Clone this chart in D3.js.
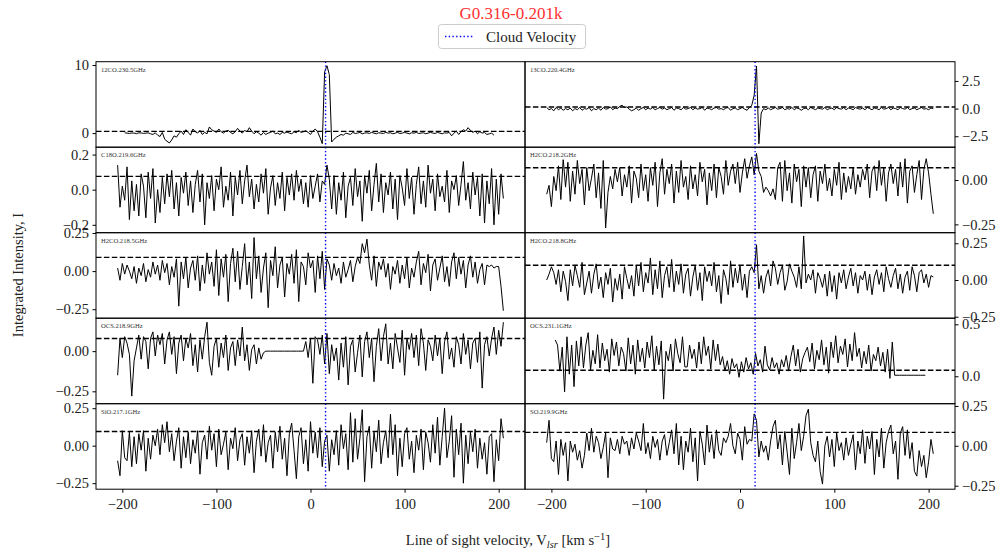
<!DOCTYPE html>
<html>
<head>
<meta charset="utf-8">
<script src="https://cdn.jsdelivr.net/npm/d3@7"></script>
<style>
  body { margin: 0; background: #fff; }
  svg { display: block; }
  svg text { font-family: "Liberation Serif", serif !important; }
</style>
</head>
<body>
<svg id="chart" width="1007" height="556"></svg>
<script>
// ---- source / annotation ----
const sourceName = "G0.316-0.201k";
const cloudVelocity = 16;            // km/s
const channelWidth = 2.5;            // km/s per channel

// ---- line names (panel order: left, right per row) ----
const lineNames = [
  "12CO.230.5GHz", "13CO.220.4GHz",
  "C18O.219.6GHz", "H2CO.218.2GHz",
  "H2CO.218.5GHz", "H2CO.218.8GHz",
  "OCS.218.9GHz",  "OCS.231.1GHz",
  "SiO.217.1GHz",  "SO.219.9GHz"
];

// first channel velocity of each spectrum (km/s)
const startVelocity = [-197.5, -205, -205, -205, -205, -205, -205, -196, -205, -205];

// detection threshold drawn as dashed line
const thresholds = [0.25, 0.15, 0.076, 0.069, 0.09, 0.10, 0.079, 0.058, 0.095, 0.084];

// y-axis limits and ticks per panel
const yLimits = [
  [-2.07, 10.49], [-3.49, 4.24],
  [-0.245, 0.242], [-0.297, 0.185],
  [-0.309, 0.252], [-0.26, 0.322],
  [-0.327, 0.205], [-0.264, 0.559],
  [-0.29, 0.28],  [-0.272, 0.264]
];
const yTicks = [
  [0, 10], [-2.5, 0, 2.5],
  [-0.2, 0, 0.2], [-0.25, 0],
  [-0.25, 0, 0.25], [-0.25, 0, 0.25],
  [-0.25, 0], [0, 0.5],
  [-0.25, 0, 0.25], [-0.25, 0, 0.25]
];
const yTickFormats = ["d", ".1f", ".1f", ".2f", ".2f", ".2f", ".2f", ".1f", ".2f", ".2f"];

const xLimits = [-228, 228];
const xTicks = [-200, -100, 0, 100, 200];

// ---- spectra (integrated intensity per channel) ----
const co12 = [
  .05,.0,-.05,.02,.0,-.08,.04,.02,-.04,.0,
  .03,-.1,-.2,.05,-.3,-.5,.1,-.9,-1.2,-1.45,
  -1.0,-.4,-.6,-.1,.3,-.2,.5,.1,-.3,.6,
  .2,.0,.4,-.2,.1,-.1,.9,.5,.3,.1,
  .6,.2,.0,.3,.4,.1,-.1,.2,.7,.3,
  .0,.4,.2,.8,.3,-.1,.2,.0,-.3,.1,
  -.2,.0,.1,.3,-.1,.0,-.2,.1,.0,.15,
  .0,-.1,.2,.05,.4,.1,.2,.35,.1,-.2,
  .3,.6,.2,-.6,-1.55,9.0,9.9,8.6,-1.3,-.9,
  -.6,-.4,-.2,-.3,.0,-.1,-.2,.1,-.05,.0,
  .1,-.1,.0,.05,-.05,.1,.0,-.1,.05,.0,
  -.05,.1,.0,.05,-.1,.0,.1,-.05,.0,.1,
  .0,-.1,.05,.0,.1,-.05,.0,.05,-.1,.0,
  .1,.0,-.05,.1,.0,-.1,.05,.0,.1,-.4,
  .0,.3,-.2,.2,.5,.3,.8,.4,.1,.3,
  -.1,.2,.0,.1,-.2,-.1,.0,-.3
];
const co13 = [
  .1,-.1,.0,-.2,.1,-.1,.05,-.15,.0,-.1,
  .05,-.2,.0,-.1,.1,-.15,.0,-.05,.1,-.2,
  .0,-.1,.05,-.15,.1,-.05,.0,.15,-.1,.05,
  .0,.2,.3,.1,.15,-.05,-.2,-.1,.05,-.15,
  .0,.1,-.1,.05,-.05,.1,-.1,.0,.1,-.05,
  .05,-.1,.0,.1,-.15,.05,.0,-.1,.1,-.05,
  .0,.1,-.1,.05,-.05,.0,.1,-.15,.05,.0,
  -.1,.05,.1,-.05,.0,-.1,.05,.1,-.15,.0,
  .05,-.1,.0,.1,-.05,-.15,.1,.3,1.2,3.85,
  -3.18,-.4,.0,-.1,.05,-.1,.0,.1,-.05,.0,
  .1,-.1,.0,-.05,.1,-.1,.05,.0,-.15,.0,
  .05,-.1,.1,.0,-.1,.05,.0,-.05,.1,-.1,
  .0,.05,-.1,.1,.0,-.05,.1,-.1,.05,.0,
  -.1,.1,.0,-.05,.05,-.1,.1,.0,-.1,.05,
  .0,-.1,.1,-.05,.0,.1,-.1,.05,.0,-.1,
  .1,.0,-.05,.1,-.1,.0,.05,-.1,.0,.1,
  -.05,.0,-.1,.05,.0
];
const c18o = [
  .14,-.10,.02,-.06,.13,-.17,.05,-.12,.03,-.15,
  .09,.02,-.16,.10,-.05,.12,-.19,.00,-.13,.07,
  -.08,.09,-.04,.11,-.11,.04,-.15,.07,-.02,.10,
  -.09,.05,-.13,.03,.11,-.07,.09,-.20,.04,-.05,
  .08,-.12,.06,.00,.13,-.10,.02,-.06,.10,-.15,
  .07,-.03,.11,-.08,.05,.14,-.04,.06,-.11,.03,
  -.07,.09,-.02,.12,-.14,.01,.08,-.09,.04,-.05,
  .10,-.12,.07,-.03,.09,-.06,.11,-.01,.06,-.08,
  .04,-.10,.08,-.05,.02,.09,-.07,.05,.03,.14,
  .06,-.11,.08,-.14,.04,-.06,.10,-.16,.02,.07,
  -.09,.12,-.04,.05,-.18,.08,-.02,.11,-.12,.03,
  .15,-.07,.09,-.13,.04,-.03,.10,-.11,.06,-.17,
  .08,.01,-.09,.12,-.05,.07,-.14,.03,.13,-.08,
  .05,-.10,.14,-.02,.06,-.12,.09,-.04,.02,-.07,
  .11,-.13,.05,.00,.08,-.09,.03,.16,-.06,.04,
  -.11,.10,-.03,.07,-.15,.09,-.19,.05,-.08,.12,
  -.20,.06,-.14,.09,-.05
];
const h2co2182 = [
  -.08,-.03,-.15,.02,-.06,.08,-.11,.12,-.04,.10,
  -.12,.05,-.08,.11,-.02,.06,-.14,.07,-.06,.01,
  .09,-.10,.04,-.16,.11,-.27,-.07,.02,-.05,.06,
  -.01,.07,-.09,.03,-.04,.08,-.13,.05,.01,-.10,
  .09,-.06,.03,-.12,.07,-.03,.10,-.15,.04,.12,
  -.08,.06,-.02,.09,-.13,.05,-.07,.11,-.04,.02,
  -.11,.08,-.05,.03,-.09,.10,-.01,.06,-.14,.04,
  -.06,.09,-.10,.07,.02,-.08,.11,-.03,.05,.09,
  -.02,.10,-.07,.04,.12,.01,.08,.13,.03,.15,
  .05,.02,-.07,-.04,-.06,-.09,-.05,-.11,.07,.10,
  -.12,.11,-.06,.04,-.13,.09,-.01,.06,-.15,.08,
  -.04,.07,-.10,.03,.08,-.12,.05,-.02,.09,-.06,
  .01,-.09,.06,-.03,.10,-.11,.04,-.07,.02,-.05,
  .07,-.08,.03,-.04,.06,.00,.09,-.10,.05,.08,
  -.06,.11,-.03,.07,-.12,.04,.09,-.02,.06,-.09,
  .10,-.04,.12,-.13,.05,.08,-.07,.03,.11,-.11,
  .06,.12,.04,-.08,-.19
];
const h2co2185 = [
  .02,-.06,.05,-.02,.04,.00,-.05,.03,-.08,.02,
  -.03,.05,-.07,.01,-.04,.06,-.02,.04,-.06,.07,
  -.01,.05,-.09,.03,-.04,.08,-.23,.06,-.05,.09,
  -.11,.02,.07,-.06,.10,-.13,.04,-.08,.12,-.02,
  .06,-.10,.14,-.16,.08,-.04,.11,-.20,.05,.15,
  -.07,.13,-.12,.03,.18,-.09,.06,-.18,.22,-.05,
  .10,-.14,.02,.12,-.24,.07,-.03,.16,-.11,.04,
  .09,-.17,.05,-.02,.11,-.08,.14,-.20,.06,.03,
  -.09,.12,.02,.07,-.14,.10,-.05,.13,-.12,.08,
  .04,-.06,.05,-.03,.02,-.08,.06,-.04,.01,.07,
  -.07,.03,.09,.05,.18,.12,.21,.04,-.06,.10,
  -.10,.06,.01,.08,-.04,.05,-.12,.03,-.02,.07,
  -.08,.04,-.05,.09,-.11,.02,-.04,.06,.13,-.09,
  .05,-.01,.11,-.13,.04,.08,-.06,.02,.10,-.07,
  .03,-.10,.06,.12,-.05,.09,-.02,.07,-.11,.04,
  .10,-.04,.06,-.08,.01,.05,-.09,.04,.03,.04,
  .02,.03,.03,-.10,-.26
];
const h2co2188 = [
  .00,.04,.09,.05,-.03,.07,-.08,.06,-.01,-.14,
  .07,-.04,.10,.03,-.05,.12,-.10,-.02,.06,-.09,
  .04,.11,-.06,.02,-.12,.05,-.03,.08,-.15,.01,
  -.07,.04,-.13,.09,.01,-.06,.03,-.11,.10,-.04,
  .12,-.08,.05,-.02,.15,-.10,.07,-.06,.13,-.12,
  .03,.09,-.05,.14,-.08,.06,-.03,.11,-.09,.04,
  .08,-.11,.02,.10,-.07,.05,-.14,.09,-.01,.06,
  -.04,.12,-.08,.03,-.16,.07,.01,-.10,.13,-.05,
  .08,-.02,.10,-.07,.04,-.12,.06,.09,.05,.24,
  -.06,.03,-.09,.02,.07,-.04,.13,.08,-.03,.05,
  .10,-.07,-.01,.11,.06,.02,-.05,.09,-.06,.30,
  -.02,.04,.00,.07,-.09,.05,.01,-.05,.04,-.11,
  .06,-.08,.03,-.13,.05,-.02,.07,-.06,.02,.08,
  -.04,.05,-.09,.03,.00,.06,-.07,.04,-.10,.02,
  .07,-.03,.05,-.08,.09,.01,-.05,.03,.08,-.06,
  .04,-.09,.02,.06,-.07,.09,.03,-.08,.05,.07,
  -.02,.04,-.05,.03,.02
];
const ocs2189 = [
  -.15,.08,-.04,.09,.05,-.02,-.28,-.06,.02,.10,
  -.05,.09,.06,-.11,.08,.12,-.03,.10,.04,.11,
  -.08,.07,.12,-.02,.09,-.14,.05,.10,-.06,.08,
  .02,.11,-.09,.04,-.13,.07,-.05,.09,.18,-.07,
  -.15,.03,.08,-.10,.05,-.04,.10,-.12,.02,.06,
  -.09,.07,-.03,.15,-.06,.04,-.12,.01,.04,-.08,
  .02,-.05,-.01,.00,.00,.00,.00,.00,.00,.00,
  .00,.00,.00,.00,.00,.00,.00,.00,.00,.00,
  .06,-.04,.08,-.20,.09,.07,-.02,.10,-.08,.11,
  -.14,.04,-.06,.02,-.18,.05,-.10,.09,-.21,.03,
  .07,-.13,-.01,.10,-.16,.06,.12,-.04,.08,-.19,
  .03,.14,-.06,.09,.17,-.08,.05,-.11,.11,.02,
  -.07,.13,-.15,.08,.01,.11,-.04,.10,-.09,.14,
  .05,-.12,.07,.03,-.06,.10,-.03,.08,-.14,.06,
  .12,-.05,.02,-.10,.09,.04,-.08,.11,-.02,.07,
  -.11,.05,.08,-.07,.12,-.23,.04,.09,-.03,.08,
  .15,-.02,.13,.03,.18
];
const ocs2311 = [
  .35,.30,.05,.28,-.15,.38,.02,.30,-.10,.34,
  .10,.38,.08,.30,.42,.06,.25,.12,.40,.08,
  .32,.15,.26,.04,.36,.20,.33,.10,.28,.22,
  .05,.37,.12,.30,.02,.35,.14,.27,.08,.33,
  .18,.39,.06,.29,.11,.34,-.22,.24,.15,.31,
  .05,.36,.22,.13,.38,.09,.09,.30,.17,.26,
  .08,.33,.12,.38,.20,.29,.07,.35,.15,.31,
  .11,.19,.05,.15,.02,.17,.08,.12,-.01,.14,
  .04,.18,.07,.13,.02,.22,.10,.16,.04,.29,
  .11,.06,.18,.08,.13,.02,.16,.09,.20,.05,
  .19,.30,.10,.26,.04,.17,.23,.28,.14,.32,
  .07,.25,.16,.35,.11,.28,.03,.33,.18,.39,
  .13,.29,.21,.36,.09,.31,.15,.42,.19,.27,
  .08,.24,.12,.30,.05,.21,.15,.28,.10,.23,
  .04,.26,-.02,.33,.01,.01,.01,.01,.01,.01,
  .01,.01,.01,.01,.01,.01,.01,.01
];
const sio = [
  -.10,-.20,.10,-.08,-.10,.09,-.14,.06,-.12,.08,
  -.03,.10,-.17,.05,-.09,.07,.00,.11,-.06,.14,
  .02,.16,-.04,.08,-.10,.03,.12,-.15,.06,-.08,
  .09,-.12,.04,-.05,.10,-.19,.02,.07,-.09,.13,
  -.03,.08,-.14,.11,-.06,.01,.09,-.16,.05,-.02,
  .12,-.10,.04,.08,-.13,.06,-.05,.10,-.18,.03,
  .11,-.07,.14,-.11,.02,.07,-.15,.09,-.04,.13,
  -.09,.05,-.20,.08,.15,-.03,-.22,.06,.12,-.12,
  .04,-.17,.16,-.05,.09,-.08,.12,-.14,.03,.07,
  -.17,.04,-.06,.10,-.13,.14,-.02,.08,-.16,.22,
  -.11,.18,-.09,.05,.24,-.24,.06,.13,-.15,.09,
  -.04,.17,-.12,.02,.10,-.08,.21,-.06,.14,-.20,
  .05,-.14,.08,.12,-.09,.03,-.18,.07,-.03,.11,
  -.16,.09,.02,-.11,.14,-.05,.19,-.13,.06,.25,
  -.08,.03,.20,-.21,.11,-.06,.15,-.25,.07,-.12,
  .09,-.04,.11,-.15,.05,-.09,.02,-.19,.06,.08,
  -.24,.04,-.10,.18,.05
];
const so = [
  .02,.16,-.08,-.10,.03,-.18,.04,-.06,.02,-.22,
  .03,-.04,.01,-.09,-.03,-.14,-.06,.08,-.03,.11,
  -.04,.06,.02,-.08,-.01,.08,-.20,.05,-.02,-.03,
  .04,-.05,.06,.01,.03,-.06,.05,-.02,.08,.03,
  -.03,.14,-.05,.02,-.08,.06,-.01,.04,-.09,.03,
  .07,-.06,.02,.10,-.05,.14,-.12,.06,-.15,.03,
  -.04,.11,-.10,.05,-.22,.09,.01,-.12,.13,-.04,
  .07,-.08,.10,-.03,-.06,.05,.02,.06,.14,.00,
  -.05,.08,.04,-.09,.12,.01,.04,.03,.20,.16,
  -.07,.03,-.04,.00,-.09,.03,.12,.16,-.02,.07,
  -.12,.09,-.04,-.18,.11,-.08,.02,.14,-.03,.06,
  .19,.23,.02,-.06,-.10,.03,-.16,-.24,.00,.06,
  -.07,.04,-.13,.08,-.03,.02,-.09,.05,-.06,.01,
  .07,-.15,.03,-.05,.10,-.11,.06,-.02,.09,-.18,
  .04,-.07,.11,-.14,.02,.09,.13,-.05,.03,-.21,
  .08,.12,-.06,.10,-.08,.02,-.16,-.19,-.03,-.13,
  -.06,-.20,-.10,.04,-.05
];

const spectra = [co12, co13, c18o, h2co2182, h2co2185, h2co2188, ocs2189, ocs2311, sio, so];

// ---- layout ----
const serif = "Liberation Serif, serif";
const svg = d3.select("#chart");
const columns = [{ x0: 96, x1: 525 }, { x0: 525, x1: 955 }];
const gridTop = 61.7, rowHeight = 85.5, nRows = 5;

const line = d3.line().x(d => d.x).y(d => d.y);

spectra.forEach((vals, k) => {
  const col = k % 2, row = Math.floor(k / 2);
  const top = gridTop + row * rowHeight, bottom = top + rowHeight;
  const x = d3.scaleLinear().domain(xLimits).range([columns[col].x0, columns[col].x1]);
  const y = d3.scaleLinear().domain(yLimits[k]).range([bottom, top]);

  const g = svg.append("g");
  const clipId = "clip" + k;
  g.append("clipPath").attr("id", clipId)
    .append("rect")
    .attr("x", columns[col].x0).attr("y", top)
    .attr("width", columns[col].x1 - columns[col].x0).attr("height", rowHeight);

  const plot = g.append("g").attr("clip-path", `url(#${clipId})`);

  const pts = vals.map((v, i) => ({
    x: x(startVelocity[k] + i * channelWidth),
    y: y(v)
  }));
  plot.append("path")
    .attr("d", line(pts))
    .attr("fill", "none")
    .attr("stroke", "#000")
    .attr("stroke-width", 1)
    .attr("stroke-linejoin", "round");

  // threshold
  plot.append("line")
    .attr("x1", columns[col].x0).attr("x2", columns[col].x1)
    .attr("y1", y(thresholds[k])).attr("y2", y(thresholds[k]))
    .attr("stroke", "#000").attr("stroke-width", 1.4)
    .attr("stroke-dasharray", "5.5,2.4");

  // cloud velocity marker
  plot.append("line")
    .attr("x1", x(cloudVelocity)).attr("x2", x(cloudVelocity))
    .attr("y1", top).attr("y2", bottom)
    .attr("stroke", "#0000ff").attr("stroke-width", 1.4)
    .attr("stroke-dasharray", "1.4,2.3");

  // frame
  g.append("rect")
    .attr("x", columns[col].x0).attr("y", top)
    .attr("width", columns[col].x1 - columns[col].x0).attr("height", rowHeight)
    .attr("fill", "none").attr("stroke", "#000").attr("stroke-width", 1);

  // line name box
  const lbl = g.append("g");
  const lx = columns[col].x0 + 5, ly = top + 10;
  const t = lbl.append("text")
    .attr("x", lx).attr("y", ly)
    .style("font-family", serif)
    .attr("font-size", 6.6)
    .attr("fill", "#333")
    .text(lineNames[k]);
  const bb = t.node().getBBox();
  lbl.insert("rect", "text")
    .attr("x", bb.x - 2).attr("y", bb.y - 1.5)
    .attr("width", bb.width + 4).attr("height", bb.height + 3)
    .attr("fill", "#fff").attr("opacity", 0.85);

  // y axis
  const yAxis = (col === 0 ? d3.axisLeft(y) : d3.axisRight(y))
    .tickValues(yTicks[k])
    .tickFormat(d3.format(yTickFormats[k]))
    .tickSize(3.5).tickPadding(3.5);
  const ya = g.append("g")
    .attr("transform", `translate(${col === 0 ? columns[col].x0 : columns[col].x1},0)`)
    .call(yAxis);
  ya.select(".domain").remove();
  ya.selectAll("text").attr("font-size", 14.5).style("font-family", serif).attr("fill", "#222");
  ya.selectAll("line").attr("stroke", "#000");

  // x axis on bottom row only
  if (row === nRows - 1) {
    const xa = g.append("g")
      .attr("transform", `translate(0,${bottom})`)
      .call(d3.axisBottom(x).tickValues(xTicks).tickFormat(d3.format("d")).tickSize(3.5).tickPadding(6.5));
    xa.select(".domain").remove();
    xa.selectAll("text").attr("font-size", 14.5).style("font-family", serif).attr("fill", "#222");
    xa.selectAll("line").attr("stroke", "#000");
  }
});

// ---- title ----
svg.append("text")
  .attr("x", 511).attr("y", 19)
  .attr("text-anchor", "middle")
  .style("font-family", serif)
  .attr("font-size", 17)
  .attr("fill", "#ff3030")
  .text(sourceName);

// ---- legend ----
const leg = svg.append("g");
leg.append("rect")
  .attr("x", 438.5).attr("y", 24.5).attr("width", 147).attr("height", 24)
  .attr("rx", 3).attr("fill", "#fff").attr("stroke", "#ccc").attr("stroke-width", 1);
leg.append("line")
  .attr("x1", 445).attr("x2", 474).attr("y1", 36.5).attr("y2", 36.5)
  .attr("stroke", "#0000ff").attr("stroke-width", 1.4).attr("stroke-dasharray", "1.4,2.3");
leg.append("text")
  .attr("x", 486).attr("y", 41.5)
  .style("font-family", serif)
  .attr("font-size", 15).attr("fill", "#222")
  .text("Cloud Velocity");

// ---- axis titles ----
svg.append("text")
  .attr("transform", "translate(23,275) rotate(-90)")
  .attr("text-anchor", "middle")
  .style("font-family", serif)
  .attr("font-size", 14.5).attr("fill", "#222")
  .text("Integrated Intensity, I");

const xl = svg.append("text")
  .attr("x", 508).attr("y", 545)
  .attr("text-anchor", "middle")
  .style("font-family", serif)
  .attr("font-size", 14.5).attr("fill", "#222");
xl.append("tspan").text("Line of sight velocity, V");
xl.append("tspan").attr("font-style", "italic").attr("font-size", 10.5).attr("dy", 3).text("lsr");
xl.append("tspan").attr("dy", -3).text(" [km s");
xl.append("tspan").attr("font-size", 10.5).attr("dy", -5).text("\u22121");
xl.append("tspan").attr("dy", 5).text("]");
</script>
</body>
</html>
